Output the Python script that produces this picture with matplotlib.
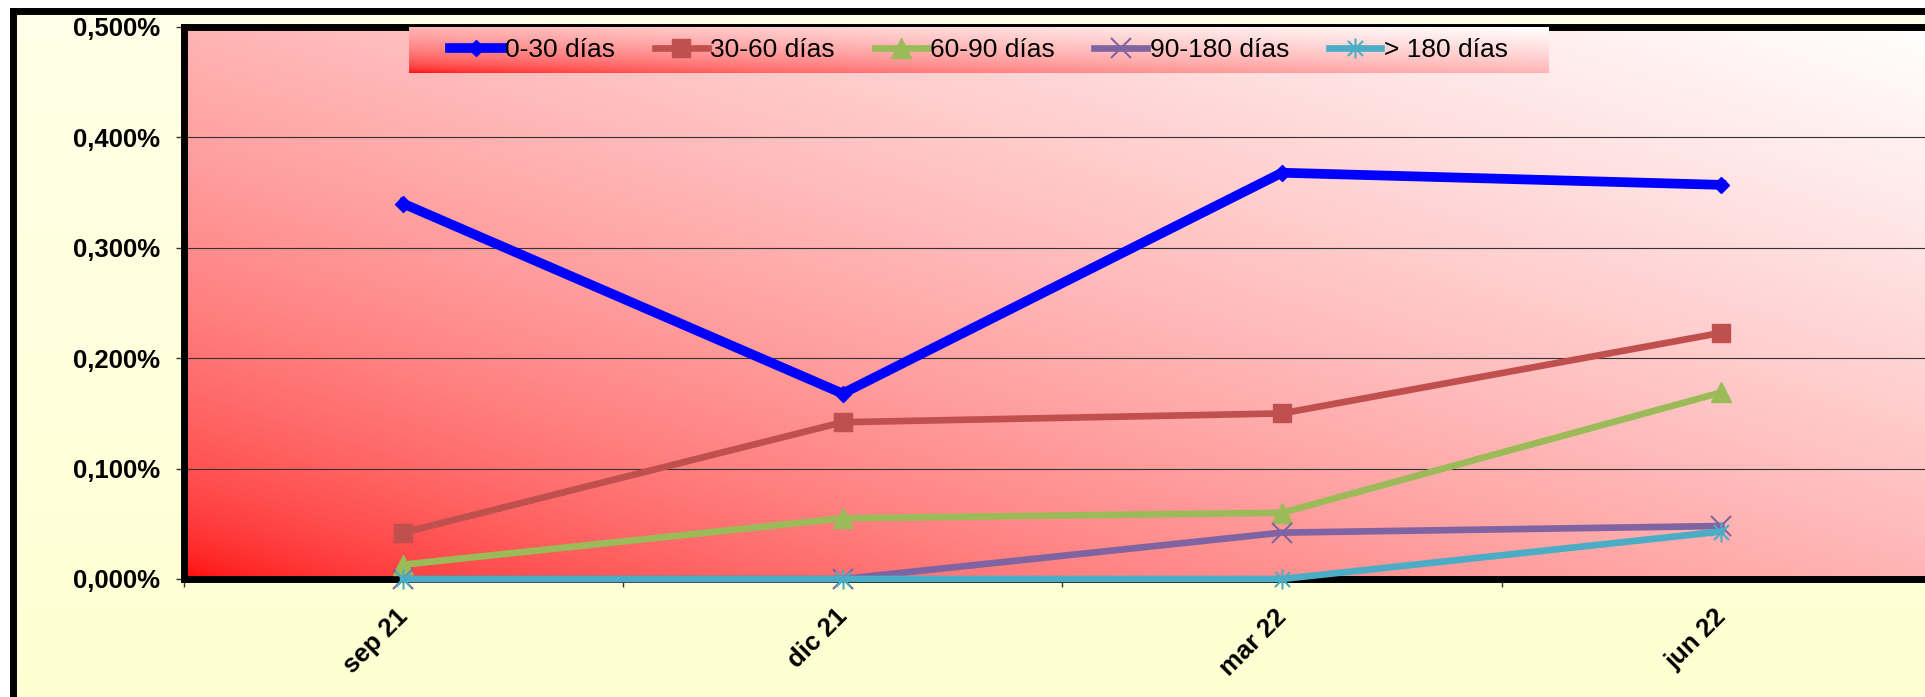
import numpy as np
import matplotlib
matplotlib.use('Agg')
from matplotlib import pyplot as plt
from matplotlib.path import Path
from matplotlib.transforms import ScaledTranslation

plt.rcParams['font.family'] = ['Liberation Sans', 'DejaVu Sans']

# %% data (values in percent)
quarters = ['sep 21', 'dic 21', 'mar 22', 'jun 22']
d0_30 = [0.340, 0.168, 0.368, 0.357]
d30_60 = [0.042, 0.142, 0.150, 0.223]
d60_90 = [0.013, 0.055, 0.060, 0.169]
d90_180 = [0.000, 0.000, 0.042, 0.048]
d180 = [0.000, 0.000, 0.000, 0.043]
series_labels = ['0-30 días', '30-60 días', '60-90 días', '90-180 días', '> 180 días']
yticks = [0.0, 0.1, 0.2, 0.3, 0.4, 0.5]

# %% figure
W, H = 1925, 697
fig = plt.figure(figsize=(W / 100, H / 100), dpi=100, facecolor='white')


def red_gradient(n=300):
    # red in the lower left corner fading to white in the upper right
    u = np.linspace(0, 1, n)
    v = np.linspace(1, 0, n)
    uu, vv = np.meshgrid(u, v)
    t = np.sqrt((uu + vv) / 2)
    img = np.ones((n, n, 3))
    img[..., 1] = t
    img[..., 2] = t
    return img


# pale yellow chart area with black frame
bg = fig.add_axes([13 / W, -0.1, 1.1, 0.1 + (1 - 11 / H)])
yel = np.ones((100, 2, 3))
yel[..., 2] = np.linspace(232, 208, 100)[:, None] / 255
bg.imshow(yel, extent=(0, 1, 0, 1), aspect='auto', interpolation='bilinear')
bg.set_xlim(0, 1)
bg.set_ylim(0, 1)
bg.set_xticks([])
bg.set_yticks([])
for side in ['right', 'bottom']:
    bg.spines[side].set_visible(False)
for side in ['left', 'top']:
    bg.spines[side].set_linewidth(5)
    bg.spines[side].set_color('black')

# plot area
ax = fig.add_axes([183.5 / W, 1 - 579 / H, (1941 - 183.5) / W, (579 - 27) / H])
ax.imshow(red_gradient(), extent=(-0.5, 3.5, 0, 0.5), aspect='auto',
          interpolation='bilinear', zorder=0)

x = np.arange(len(quarters))
asterisk = Path([(0, -1), (0, 1), (-0.75, -0.75), (0.75, 0.75), (-0.75, 0.75), (0.75, -0.75)],
                [Path.MOVETO, Path.LINETO] * 3)

ax.plot(x, d0_30, color='#0000FF', lw=7, marker='D', ms=8.5,
        label=series_labels[0], zorder=3, clip_on=False)
ax.plot(x, d30_60, color='#C0504D', lw=4.8, marker='s', ms=13,
        label=series_labels[1], zorder=3, clip_on=False)
ax.plot(x, d60_90, color='#9BBB59', lw=4.8, marker='^', ms=14,
        label=series_labels[2], zorder=3, clip_on=False)
ax.plot(x, d90_180, color='#8064A2', lw=4.8, marker='x', ms=14, mew=1.5,
        label=series_labels[3], zorder=3, clip_on=False)
ax.plot(x, d180, color='#4BACC6', lw=4.8, marker=asterisk, ms=14.5, mew=1.5, mfc='none',
        label=series_labels[4], zorder=3, clip_on=False)

ax.set_xlim(-0.5, 3.5)
ax.set_ylim(0, 0.5)

ax.set_xticks(x)
ax.set_xticklabels(quarters, rotation=45, ha='right', va='center',
                   rotation_mode='anchor', fontsize=18.5, fontweight='bold')
ax.set_xticks(np.arange(-0.5, 4, 1), minor=True)
ax.tick_params(axis='x', which='major', length=0, pad=0)
ax.tick_params(axis='x', which='minor', length=6, width=1, direction='out', color='#333333')

ax.set_yticks(yticks)
ax.set_yticklabels([f'{v:.3f}%'.replace('.', ',') for v in yticks],
                   fontsize=18.5, fontweight='bold')
ax.tick_params(axis='y', length=6, width=1, pad=11, color='#333333')

offset = ScaledTranslation(1 / 100, -34 / 100, fig.dpi_scale_trans)
for lab in ax.get_xticklabels():
    lab.set_transform(lab.get_transform() + offset)

ax.grid(axis='y', color='#333333', lw=0.8)
ax.set_axisbelow(True)

ax.spines['right'].set_visible(False)
for side in ['left', 'top', 'bottom']:
    ax.spines[side].set_linewidth(5)
    ax.spines[side].set_color('black')

# legend on its own gradient box
lax = fig.add_axes([409 / W, 1 - 73 / H, (1549 - 409) / W, 46 / H])
lax.imshow(red_gradient(), extent=(0, 1, 0, 1), aspect='auto', interpolation='bilinear')
lax.set_xlim(0, 1)
lax.set_ylim(0, 1)
lax.set_axis_off()
handles, labels = ax.get_legend_handles_labels()
lax.legend(handles, labels, loc='center', ncol=5, frameon=False, fontsize=19,
           handlelength=2.0, handletextpad=0.1, columnspacing=1.5,
           borderpad=0, borderaxespad=0)

fig.savefig('out.png', dpi=100, facecolor='white')
